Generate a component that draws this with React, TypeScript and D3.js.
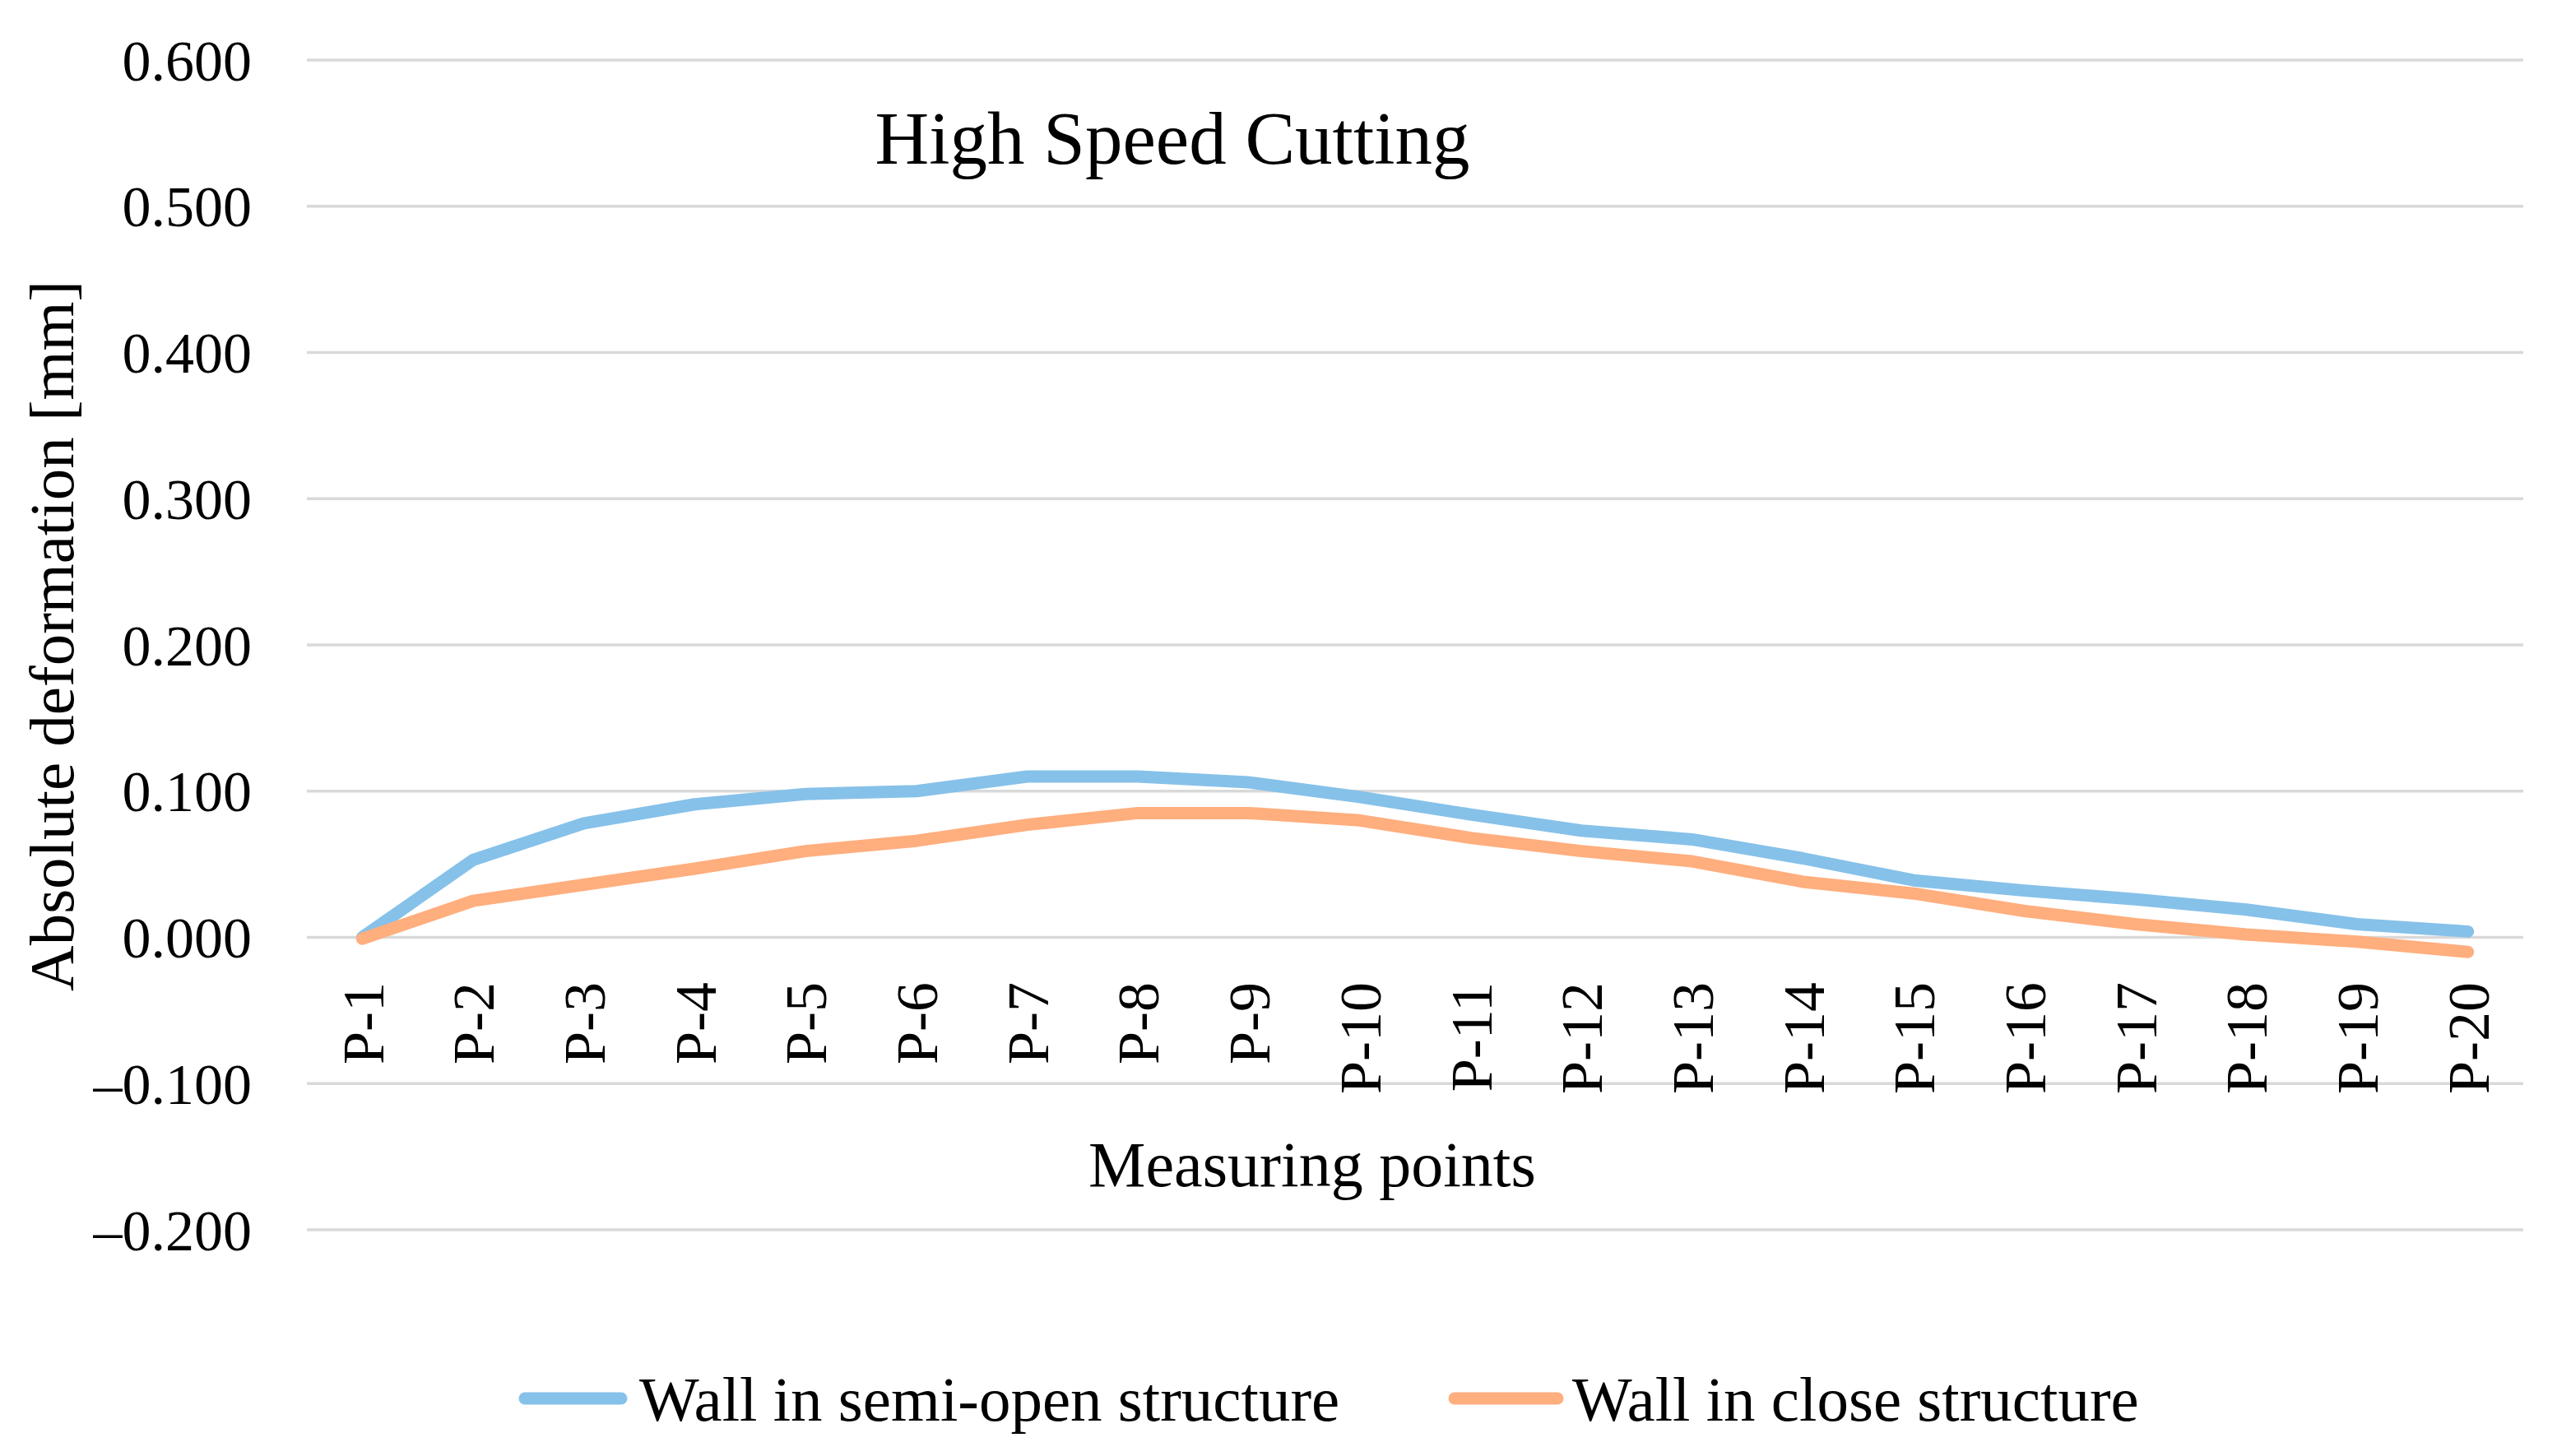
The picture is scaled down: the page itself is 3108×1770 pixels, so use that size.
import React, { useEffect } from "react";
import * as d3 from "d3";

const categories = ["P-1","P-2","P-3","P-4","P-5","P-6","P-7","P-8","P-9","P-10","P-11","P-12","P-13","P-14","P-15","P-16","P-17","P-18","P-19","P-20"];
const semiOpen = [0.000,0.053,0.078,0.091,0.098,0.100,0.110,0.110,0.106,0.096,0.084,0.073,0.067,0.054,0.039,0.032,0.026,0.019,0.009,0.004];
const closeWall = [-0.001,0.025,0.036,0.047,0.059,0.066,0.077,0.085,0.085,0.080,0.068,0.059,0.052,0.038,0.030,0.018,0.009,0.002,-0.003,-0.010];
const yTicks = [-0.2,-0.1,0,0.1,0.2,0.3,0.4,0.5,0.6];
const seriesNames = ["Wall in semi-open structure","Wall in close structure"];
const seriesColors = ["#86c1e9","#ffae7e"];

const W = 3108, H = 1770;
const FONT = "'Liberation Serif', 'Times New Roman', serif";

export default function App() {
  useEffect(() => { document.body.style.margin = "0"; }, []);
  const left = 373, right = 3067, top = 73, bottom = 1495;
  const x = d3.scaleBand<string>().domain(categories).range([left, right]).padding(0);
  const y = d3.scaleLinear().domain([-0.2, 0.6]).range([bottom, top]);
  const cx = (c: string) => (x(c) as number) + x.bandwidth() / 2;
  const line = d3.line<number>().x((_, i) => cx(categories[i])).y(d => y(d)).curve(d3.curveLinear);
  const fmt = (v: number) => (v < 0 ? "\u2013" : "") + Math.abs(v).toFixed(3);
  const data = [semiOpen, closeWall];
  const legend = [
    { lx1: 638, lx2: 755, tx: 777 },
    { lx1: 1768, lx2: 1893, tx: 1911 },
  ];
  const legY = 1700;
  return (
    <svg width={W} height={H} style={{ display: "block", position: "absolute", left: 0, top: 0, background: "#fff" }} fontFamily={FONT}>
      <rect width={W} height={H} fill="#fff" />
      {yTicks.map(t => (
        <g key={t}>
          <line x1={left} x2={right} y1={y(t)} y2={y(t)} stroke="#d9d9d9" strokeWidth={3.5} />
          <text x={306} y={y(t)} dy="0.35em" textAnchor="end" fontSize={70} fill="#000">{fmt(t)}</text>
        </g>
      ))}
      {categories.map(c => (
        <text key={c} transform={`translate(${cx(c)},1194) rotate(-90)`} dy="0.35em" textAnchor="end" fontSize={72} fill="#000">{c}</text>
      ))}
      {data.map((d, i) => (
        <path key={i} d={line(d) as string} fill="none" stroke={seriesColors[i]} strokeWidth={15} strokeLinejoin="round" strokeLinecap="round" />
      ))}
      <text x={1425} y={199} textAnchor="middle" fontSize={91} fill="#000">High Speed Cutting</text>
      <text x={1595} y={1442} textAnchor="middle" fontSize={78} fill="#000">Measuring points</text>
      <text transform={`translate(89,773) rotate(-90)`} textAnchor="middle" fontSize={77} fill="#000">Absolute deformation [mm]</text>
      {legend.map((l, i) => (
        <g key={i}>
          <line x1={l.lx1} x2={l.lx2} y1={legY} y2={legY} stroke={seriesColors[i]} strokeWidth={15} strokeLinecap="round" />
          <text x={l.tx} y={legY} dy="0.35em" fontSize={77} fill="#000">{seriesNames[i]}</text>
        </g>
      ))}
    </svg>
  );
}
